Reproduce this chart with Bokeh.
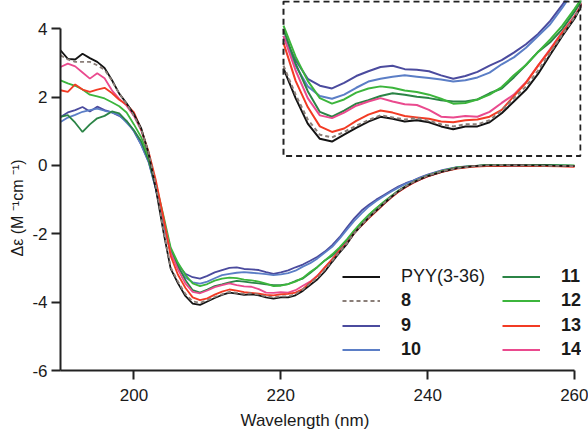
from bokeh.plotting import figure
from bokeh.models import Range1d, FixedTicker, Legend, LegendItem, Title
from bokeh.embed import file_html
from bokeh.resources import INLINE

# ---------------- data ----------------
wavelength = list(range(190, 241)) + list(range(242, 261, 2))

pyy = [3.37, 3.12, 3.10, 3.27, 3.14, 3.03, 2.85, 2.50, 2.10, 1.82,
       1.50, 1.08, 0.35, -0.70, -1.92, -3.02, -3.45, -3.82, -4.04, -4.08,
       -3.98, -3.88, -3.79, -3.72, -3.75, -3.79, -3.77, -3.80, -3.86, -3.90,
       -3.86, -3.86, -3.80, -3.67, -3.50, -3.33, -3.10, -2.82, -2.55, -2.30,
       -1.98, -1.75, -1.52, -1.32, -1.12, -0.93, -0.76, -0.62, -0.50, -0.40,
       -0.31, -0.18, -0.08, -0.03, 0.00, 0.00, 0.01, 0.00, 0.00, -0.01, -0.02]

s8 = [3.22, 3.10, 3.03, 3.03, 3.03, 2.93, 2.80, 2.48, 2.10, 1.80,
      1.45, 1.05, 0.38, -0.60, -1.88, -2.98, -3.40, -3.76, -3.98, -4.02,
      -3.94, -3.85, -3.77, -3.70, -3.73, -3.76, -3.74, -3.78, -3.83, -3.86,
      -3.83, -3.83, -3.77, -3.63, -3.45, -3.28, -3.05, -2.79, -2.53, -2.28,
      -1.98, -1.74, -1.51, -1.31, -1.11, -0.92, -0.75, -0.61, -0.49, -0.39,
      -0.30, -0.17, -0.08, -0.03, 0.00, 0.01, 0.00, 0.00, -0.01, -0.01, -0.02]

s9 = [1.42, 1.55, 1.62, 1.71, 1.58, 1.72, 1.62, 1.55, 1.45, 1.30,
      1.00, 0.60, 0.10, -0.70, -1.65, -2.55, -2.90, -3.17, -3.27, -3.31,
      -3.23, -3.13, -3.06, -3.00, -2.98, -3.03, -3.04, -3.06, -3.12, -3.17,
      -3.13, -3.07, -2.98, -2.90, -2.79, -2.67, -2.52, -2.33, -2.10, -1.82,
      -1.55, -1.32, -1.15, -1.00, -0.87, -0.74, -0.62, -0.52, -0.44, -0.35,
      -0.27, -0.14, -0.05, -0.02, 0.00, 0.00, 0.01, 0.00, 0.01, 0.00, -0.01]

s10 = [1.27, 1.40, 1.48, 1.57, 1.62, 1.66, 1.60, 1.55, 1.47, 1.25,
       1.02, 0.60, 0.12, -0.70, -1.65, -2.55, -2.98, -3.28, -3.42, -3.46,
       -3.40, -3.30, -3.21, -3.17, -3.14, -3.12, -3.14, -3.16, -3.18, -3.21,
       -3.19, -3.15, -3.08, -2.96, -2.86, -2.72, -2.55, -2.38, -2.14, -1.88,
       -1.62, -1.40, -1.20, -1.04, -0.90, -0.77, -0.65, -0.54, -0.45, -0.36,
       -0.28, -0.15, -0.06, -0.02, 0.00, 0.00, 0.00, 0.01, 0.00, 0.00, -0.01]

s11 = [1.42, 1.47, 1.25, 0.98, 1.20, 1.38, 1.45, 1.58, 1.52, 1.30,
       1.03, 0.70, 0.15, -0.65, -1.60, -2.45, -2.95, -3.35, -3.65, -3.72,
       -3.63, -3.53, -3.48, -3.42, -3.38, -3.40, -3.43, -3.45, -3.48, -3.50,
       -3.50, -3.47, -3.38, -3.31, -3.15, -2.97, -2.78, -2.64, -2.45, -2.20,
       -1.92, -1.68, -1.45, -1.26, -1.08, -0.91, -0.75, -0.62, -0.50, -0.40,
       -0.31, -0.17, -0.07, -0.02, 0.00, 0.01, 0.01, 0.00, 0.01, 0.00, -0.01]

s12 = [2.49, 2.40, 2.33, 2.22, 2.07, 2.02, 1.96, 1.85, 1.73, 1.55,
       1.20, 0.82, 0.25, -0.55, -1.45, -2.40, -2.85, -3.20, -3.45, -3.53,
       -3.47, -3.37, -3.31, -3.28, -3.30, -3.34, -3.36, -3.40, -3.46, -3.53,
       -3.52, -3.47, -3.40, -3.29, -3.12, -2.97, -2.78, -2.60, -2.40, -2.16,
       -1.90, -1.66, -1.44, -1.25, -1.07, -0.90, -0.74, -0.61, -0.49, -0.39,
       -0.30, -0.16, -0.06, -0.02, 0.01, 0.01, 0.01, 0.01, 0.00, 0.00, 0.00]

s13 = [2.20, 2.15, 2.37, 2.22, 2.15, 2.22, 2.27, 2.12, 1.92, 1.78,
       1.55, 1.05, 0.40, -0.45, -1.50, -2.65, -3.20, -3.58, -3.86, -3.94,
       -3.89, -3.78, -3.69, -3.63, -3.66, -3.71, -3.73, -3.75, -3.79, -3.80,
       -3.77, -3.76, -3.72, -3.62, -3.42, -3.23, -2.98, -2.75, -2.50, -2.28,
       -1.98, -1.76, -1.54, -1.34, -1.14, -0.95, -0.78, -0.64, -0.51, -0.41,
       -0.32, -0.19, -0.09, -0.04, -0.02, -0.02, -0.01, -0.02, -0.02, -0.03, -0.04]

s14 = [2.88, 2.98, 2.90, 2.72, 2.54, 2.70, 2.55, 2.20, 1.95, 1.75,
       1.45, 1.02, 0.35, -0.55, -1.55, -2.55, -3.05, -3.45, -3.70, -3.74,
       -3.66, -3.56, -3.50, -3.45, -3.50, -3.54, -3.55, -3.62, -3.72, -3.73,
       -3.71, -3.72, -3.65, -3.52, -3.40, -3.22, -2.98, -2.74, -2.49, -2.26,
       -1.98, -1.75, -1.53, -1.33, -1.13, -0.94, -0.77, -0.63, -0.51, -0.41,
       -0.32, -0.18, -0.08, -0.03, -0.01, -0.01, 0.00, -0.01, -0.01, -0.02, -0.03]

series_labels = ["PYY(3-36)", "8", "9", "10", "11", "12", "13", "14"]
x_ticks = [200, 220, 240, 260]
x_tick_labels = ["200", "220", "240", "260"]
y_ticks = [-6, -4, -2, 0, 2, 4]
y_tick_labels = ["-6", "-4", "-2", "0", "2", "4"]
x_title = "Wavelength (nm)"
y_title = "Δε  (M ⁻¹cm ⁻¹)"

# ---------------- styles ----------------
colors = {"PYY(3-36)": "#141414", "8": "#8a7e78", "9": "#4b4b9e", "10": "#5b7ec6",
          "11": "#2b8446", "12": "#3cb53c", "13": "#f23b24", "14": "#ea4a8e"}
values = {"PYY(3-36)": pyy, "8": s8, "9": s9, "10": s10, "11": s11,
          "12": s12, "13": s13, "14": s14}
draw_order = ["9", "10", "11", "12", "14", "13", "PYY(3-36)", "8"]

FONT = "Liberation Sans"
TXT = "#1a1a1a"

# main axes window and inset window
X0, X_END = 190, 260.95
Y0, Y_END = -6, 4.826
INSET_X = (205.0, 229.5)
INSET_Y = (-4.29, -2.05)
# frame size and inset box placement inside the frame (px from frame left / top)
frame_w = 521.0
frame_h = 371.0
box_left_px, box_right_px = 223.0, 520.0
box_top_px, box_bottom_px = 1.0, 156.0

sx = (box_right_px - box_left_px) / (INSET_X[1] - INSET_X[0])
sy = (box_bottom_px - box_top_px) / (INSET_Y[1] - INSET_Y[0])
ix0 = INSET_X[0] - box_left_px / sx
ix1 = INSET_X[1] + (frame_w - box_right_px) / sx
iy1 = INSET_Y[1] + box_top_px / sy
iy0 = INSET_Y[0] - (frame_h - box_bottom_px) / sy

p = figure(width=588, height=434, x_range=Range1d(X0, X_END), y_range=Range1d(Y0, Y_END),
           output_backend="svg", toolbar_location=None,
           min_border_left=60, min_border_right=7, min_border_top=0, min_border_bottom=63)
p.title.visible = False
p.extra_x_ranges = {"ix": Range1d(ix0, ix1)}
p.extra_y_ranges = {"iy": Range1d(iy0, iy1)}
p.outline_line_color = None
p.xgrid.visible = False
p.ygrid.visible = False
p.background_fill_color = "white"
p.border_fill_color = "white"

for ax in (p.xaxis[0], p.yaxis[0]):
    ax.axis_line_width = 2
    ax.axis_line_color = "#222222"
    ax.major_tick_line_width = 2
    ax.major_tick_line_color = "#222222"
    ax.major_tick_out = 9
    ax.major_tick_in = 0
    ax.minor_tick_out = 0
    ax.minor_tick_in = 0
    ax.major_label_text_font = FONT
    ax.major_label_text_font_size = "17px"
    ax.major_label_text_color = TXT

p.xaxis.bounds = (190, 260)
p.yaxis.bounds = (-6, 4)
p.xaxis.ticker = FixedTicker(ticks=x_ticks)
p.yaxis.ticker = FixedTicker(ticks=y_ticks)
p.xaxis.major_label_overrides = dict(zip(x_ticks, x_tick_labels))
p.yaxis.major_label_overrides = dict(zip(y_ticks, y_tick_labels))
p.xaxis.major_label_standoff = 9
p.yaxis.major_label_standoff = 4

# axis titles
p.add_layout(Title(text=x_title, align="left", offset=180, standoff=10,
                   text_font=FONT, text_font_size="17px", text_font_style="normal",
                   text_color=TXT), "below")
p.add_layout(Title(text=y_title, align="left", offset=114, standoff=8,
                   text_font=FONT, text_font_size="16px", text_font_style="normal",
                   text_color=TXT), "left")

# ---------------- main curves ----------------
renderers = {}
for name in draw_order:
    dash = "4 3" if name == "8" else "solid"
    r = p.line(wavelength, values[name], line_color=colors[name], line_width=1.8,
               line_dash=dash)
    renderers[name] = r

# ---------------- inset ----------------
sel = [i for i, w in enumerate(wavelength) if INSET_X[0] <= w <= INSET_X[1] + 1]
for name in draw_order:
    dash = "4 3" if name == "8" else "solid"
    p.line([wavelength[i] for i in sel], [values[name][i] for i in sel],
           line_color=colors[name], line_width=2.0, line_dash=dash,
           x_range_name="ix", y_range_name="iy")
p.quad(left=INSET_X[0], right=INSET_X[1], bottom=INSET_Y[0], top=INSET_Y[1],
       fill_alpha=0, line_color="#222222", line_width=2, line_dash="6 4",
       x_range_name="ix", y_range_name="iy")

# ---------------- legend (two columns, one entry per legend) ----------------
legend_cols = [["PYY(3-36)", "8", "9", "10"], ["11", "12", "13", "14"]]
col_x = [282, 442]                       # px from frame left
row_center = [277.3, 301.7, 326.0, 350.7]  # px from top of the page
ITEM_H = 21
for ci, names in enumerate(legend_cols):
    for ri, name in enumerate(names):
        vy = frame_h - (row_center[ri] + ITEM_H / 2)
        lg = Legend(items=[LegendItem(label=name, renderers=[renderers[name]])],
                    location=(col_x[ci], round(vy)), orientation="vertical",
                    padding=0, margin=0, spacing=0,
                    glyph_width=38, glyph_height=ITEM_H, label_height=ITEM_H,
                    label_standoff=21, label_text_font=FONT,
                    label_text_font_size="18px",
                    label_text_font_style="normal" if name == "PYY(3-36)" else "bold",
                    label_text_color=TXT, border_line_alpha=0,
                    background_fill_alpha=0)
        p.add_layout(lg)

open("out.html", "w").write(file_html(p, INLINE))
